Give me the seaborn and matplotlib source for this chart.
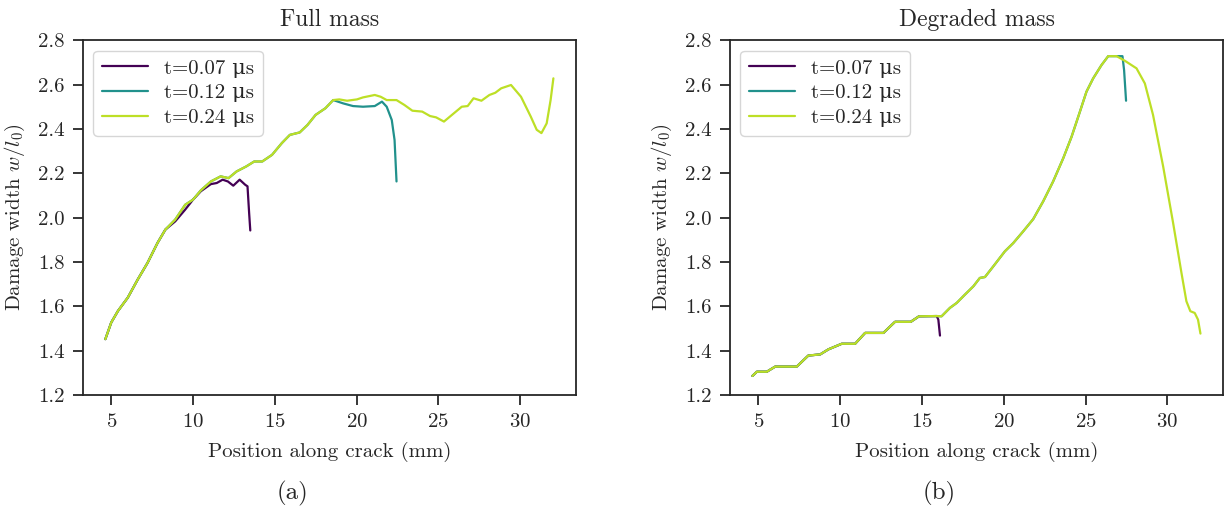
import matplotlib
matplotlib.use("Agg")
import matplotlib.pyplot as plt
import pandas as pd
import seaborn as sns
import numpy as np

sns.set_style("ticks")
plt.rcParams['font.family'] = ['cmr10', 'DejaVu Serif']
plt.rcParams['mathtext.fontset'] = 'cm'
plt.rcParams['axes.formatter.use_mathtext'] = True

labels = ["t=0.07 \u03bcs", "t=0.12 \u03bcs", "t=0.24 \u03bcs"]
colors = ["#440154", "#21918c", "#bddf26"]

# ---- Full mass: shared start, then tails per time step
full_x_base = [4.64, 5.0, 5.41, 6.01, 6.62, 7.22, 7.83, 8.31]
full_y_base = [1.452, 1.527, 1.579, 1.639, 1.721, 1.796, 1.886, 1.946]

full_x_07 = [8.91, 9.52, 10.0, 10.48, 11.09, 11.45, 11.81, 12.13, 12.46, 12.85, 13.19, 13.33, 13.43, 13.50]
full_y_07 = [1.983, 2.036, 2.081, 2.119, 2.151, 2.156, 2.171, 2.163, 2.144, 2.171, 2.148, 2.141, 2.02, 1.942]

full_x_mid = [8.91, 9.52, 10.0, 10.48, 11.09, 11.69, 12.17, 12.66, 13.26, 13.74, 14.23, 14.83,
              15.43, 15.92, 16.52, 17.0, 17.49, 18.09, 18.57]
full_y_mid = [1.991, 2.058, 2.081, 2.123, 2.163, 2.186, 2.178, 2.208, 2.231, 2.253, 2.253, 2.283,
              2.336, 2.373, 2.384, 2.418, 2.463, 2.493, 2.530]

full_x_12 = [19.18, 19.78, 20.39, 21.11, 21.55, 21.84, 22.15, 22.32, 22.44]
full_y_12 = [2.515, 2.503, 2.500, 2.503, 2.523, 2.500, 2.44, 2.35, 2.163]

full_x_24 = [18.94, 19.42, 20.02, 20.39, 21.11, 21.47, 21.84, 22.44, 22.92, 23.41, 24.01, 24.49,
             24.86, 25.34, 25.94, 26.43, 26.79, 27.15, 27.63, 28.12, 28.48, 28.84, 29.44, 30.05,
             30.65, 31.01, 31.30, 31.62, 31.86, 32.03]
full_y_24 = [2.533, 2.527, 2.533, 2.542, 2.553, 2.545, 2.530, 2.530, 2.508, 2.482, 2.478, 2.458,
             2.452, 2.433, 2.470, 2.500, 2.503, 2.538, 2.527, 2.553, 2.563, 2.583, 2.598, 2.545,
             2.455, 2.396, 2.381, 2.425, 2.530, 2.628]

# ---- Degraded mass
deg_x_base = [4.63, 4.90, 5.51, 6.02, 7.34, 8.05, 8.77, 9.28, 10.09, 10.91, 11.52, 12.64,
              13.35, 14.31, 14.82, 15.9]
deg_y_base = [1.286, 1.305, 1.305, 1.328, 1.328, 1.378, 1.383, 1.406, 1.431, 1.431, 1.48, 1.48,
              1.530, 1.530, 1.555, 1.556]

deg_x_07 = [16.0, 16.1]
deg_y_07 = [1.54, 1.468]

deg_x_mid = [16.2, 16.71, 17.12, 17.63, 18.14, 18.54, 18.85, 19.36, 20.07, 20.58, 21.19, 21.80,
             22.41, 23.02, 23.64, 24.15, 24.66, 25.06, 25.47, 25.98, 26.39, 26.90]
deg_y_mid = [1.555, 1.593, 1.615, 1.653, 1.690, 1.728, 1.732, 1.780, 1.848, 1.885, 1.938, 1.993,
             2.073, 2.163, 2.268, 2.365, 2.478, 2.568, 2.628, 2.688, 2.728, 2.728]

deg_x_12 = [27.26, 27.36, 27.48]
deg_y_12 = [2.728, 2.665, 2.527]

deg_x_24 = [27.41, 28.12, 28.63, 29.13, 29.75, 30.36, 30.87, 31.17, 31.41, 31.68, 31.88, 32.03]
deg_y_24 = [2.707, 2.673, 2.605, 2.463, 2.230, 1.975, 1.750, 1.623, 1.578, 1.570, 1.540, 1.477]


def make_df(series):
    rows = []
    for lab, xs, ys in series:
        rows.append(pd.DataFrame({"x": xs, "y": ys, "t": lab}))
    return pd.concat(rows, ignore_index=True)


df_full = make_df([
    (labels[0], full_x_base + full_x_07, full_y_base + full_y_07),
    (labels[1], full_x_base + full_x_mid + full_x_12, full_y_base + full_y_mid + full_y_12),
    (labels[2], full_x_base + full_x_mid + full_x_24, full_y_base + full_y_mid + full_y_24),
])
df_deg = make_df([
    (labels[0], deg_x_base + deg_x_07, deg_y_base + deg_y_07),
    (labels[1], deg_x_base + deg_x_mid + deg_x_12, deg_y_base + deg_y_mid + deg_y_12),
    (labels[2], deg_x_base + deg_x_mid + deg_x_24, deg_y_base + deg_y_mid + deg_y_24),
])

fig = plt.figure(figsize=(12.29, 5.12), dpi=100)
ax1 = fig.add_axes([0.0675, 0.2285, 0.401, 0.693])
ax2 = fig.add_axes([0.594, 0.2285, 0.401, 0.693])

for ax, df, title in [(ax1, df_full, "Full mass"), (ax2, df_deg, "Degraded mass")]:
    sns.lineplot(data=df, x="x", y="y", hue="t", palette=colors, sort=False,
                 estimator=None, linewidth=1.6, ax=ax)
    ax.set_ylim(1.2, 2.8)
    ax.set_xticks([5, 10, 15, 20, 25, 30])
    ax.set_yticks(np.arange(1.2, 2.81, 0.2))
    ax.yaxis.set_major_formatter(matplotlib.ticker.FormatStrFormatter("%.1f"))
    ax.tick_params(labelsize=15, length=7, width=1.3, pad=6)
    for s in ax.spines.values():
        s.set_linewidth(1.3)
    ax.set_title(title, fontsize=17, pad=10)
    ax.set_xlabel("Position along crack (mm)", fontsize=15, labelpad=8)
    ax.set_ylabel(r"Damage width $w/l_0$)", fontsize=15, labelpad=8)
    ax.legend(loc="upper left", fontsize=15, title=None, frameon=True,
              handlelength=2.2, borderpad=0.4, labelspacing=0.3)

fig.text(0.2376, 0.037, "(a)", fontsize=18, ha="center", va="center")
fig.text(0.764, 0.037, "(b)", fontsize=18, ha="center", va="center")

fig.savefig("out.png", dpi=100)
